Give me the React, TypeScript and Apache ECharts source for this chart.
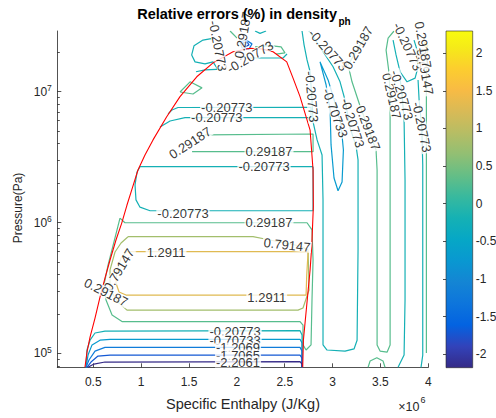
import React, { useEffect, useRef } from "react";
import * as echarts from "echarts";

// ---------- axes ----------
const H_RANGE = [0.124e6, 4.0e6];
const P_RANGE = [7.82e4, 2.91e7];
const C_RANGE = [-2.18, 2.296];

const xTickValues = [0.5e6, 1e6, 1.5e6, 2e6, 2.5e6, 3e6, 3.5e6, 4e6];
const yTickValues = [1e5, 1e6, 1e7];
const yMinorTickValues = [8e4, 9e4, 2e5, 3e5, 4e5, 5e5, 6e5, 7e5, 8e5, 9e5, 2e6, 3e6, 4e6, 5e6, 6e6, 7e6, 8e6, 9e6, 2e7];
const colorbarTicks = [-2, -1.5, -1, -0.5, 0, 0.5, 1, 1.5, 2];

// ---------- contour levels ----------
const L1 = -2.2061, L2 = -1.7065, L3 = -1.2069, L4 = -0.70733, L5 = -0.20773, L6 = 0.29187, L7 = 0.79147, L8 = 1.2911, L9 = 1.7907;

// ---------- saturation dome (h J/kg, p Pa) ----------
const saturationDome = [
  [0.413e6, 7.82e4], [0.434e6, 1.02e5], [0.466e6, 1.33e5], [0.518e6, 1.86e5], [0.570e6, 2.69e5],
  [0.622e6, 3.76e5], [0.675e6, 5.17e5], [0.737e6, 7.35e5], [0.797e6, 9.9e5], [0.852e6, 1.36e6],
  [0.901e6, 1.77e6], [0.967e6, 2.52e6], [1.040e6, 3.28e6], [1.124e6, 4.28e6], [1.267e6, 6.44e6],
  [1.406e6, 9.16e6], [1.581e6, 1.30e7], [1.751e6, 1.66e7], [1.960e6, 2.02e7], [2.138e6, 2.15e7],
  [2.263e6, 2.12e7], [2.378e6, 2.02e7], [2.521e6, 1.69e7], [2.587e6, 1.27e7], [2.660e6, 9.16e6],
  [2.765e6, 5.09e6], [2.796e6, 2.52e6], [2.799e6, 1.32e6], [2.782e6, 6.53e5], [2.765e6, 4.34e5],
  [2.695e6, 1.26e5], [2.688e6, 7.82e4],
];

// ---------- contour lines ----------
const cT1 = [[1.197e6, 5.37e6], [1.302e6, 5.97e6], [1.458e6, 6.33e6], [2.775e6, 6.33e6], [2.775e6, 7.60e6], [1.385e6, 7.57e6], [1.322e6, 7.24e6], [1.281e6, 6.76e6]];
const cG1 = [[1.667e6, 4.67e6], [2.796e6, 4.75e6], [2.796e6, 3.48e6], [1.532e6, 3.48e6]];
const cT2 = [[2.796e6, 2.67e6], [0.988e6, 2.67e6], [0.957e6, 2.43e6], [0.936e6, 1.94e6], [0.946e6, 1.49e6], [0.988e6, 1.31e6], [1.093e6, 1.23e6], [2.796e6, 1.23e6], [2.796e6, 2.67e6]];
const cG2 = [[0.779e6, 1.08e6], [0.831e6, 9.96e5], [2.733e6, 9.96e5], [2.785e6, 8.77e5], [2.796e6, 5.17e5], [2.785e6, 2.56e5], [2.775e6, 1.16e5], [2.723e6, 1.06e5], [2.691e6, 1.16e5], [2.691e6, 1.64e5], [2.660e6, 1.75e5], [0.800e6, 1.75e5], [0.696e6, 1.96e5], [0.633e6, 2.56e5], [0.612e6, 3.33e5], [0.654e6, 4.73e5], [0.716e6, 7.10e5], [0.779e6, 1.08e6]];
const cO1 = [[0.863e6, 7.79e5], [2.169e6, 7.79e5], [2.294e6, 7.48e5], [2.660e6, 6.61e5], [2.744e6, 6.16e5], [2.754e6, 3.05e5], [2.691e6, 2.22e5], [2.639e6, 2.14e5], [0.852e6, 2.14e5], [0.758e6, 2.47e5], [0.675e6, 3.05e5], [0.675e6, 4.34e5], [0.727e6, 5.95e5], [0.790e6, 6.97e5], [0.863e6, 7.79e5]];
const cY1 = [[2.744e6, 5.98e5], [0.849e6, 5.98e5], [0.790e6, 5.36e5], [0.748e6, 4.34e5], [0.737e6, 3.45e5], [0.769e6, 2.94e5], [0.842e6, 2.79e5], [2.723e6, 2.79e5], [2.730e6, 3.97e5], [2.744e6, 5.98e5]];
const cS1 = [[0.424e6, 7.82e4], [0.434e6, 1.06e5], [0.466e6, 1.26e5], [0.518e6, 1.43e5], [0.622e6, 1.48e5], [2.660e6, 1.49e5], [2.681e6, 1.38e5], [2.681e6, 7.82e4]];
const cS2 = [[0.424e6, 7.82e4], [0.445e6, 9.70e4], [0.487e6, 1.16e5], [0.570e6, 1.26e5], [0.675e6, 1.28e5], [2.660e6, 1.28e5], [2.681e6, 1.20e5], [2.681e6, 7.82e4]];
const cS3 = [[0.424e6, 7.82e4], [0.455e6, 8.89e4], [0.518e6, 1.04e5], [0.622e6, 1.11e5], [2.660e6, 1.11e5], [2.681e6, 1.04e5], [2.681e6, 7.82e4]];
const cS4 = [[0.434e6, 7.82e4], [0.476e6, 8.58e4], [0.549e6, 9.53e4], [0.675e6, 9.70e4], [2.660e6, 9.70e4], [2.681e6, 9.20e4], [2.681e6, 7.82e4]];
const cS5 = [[0.445e6, 7.82e4], [0.507e6, 8.28e4], [0.622e6, 8.58e4], [2.660e6, 8.63e4], [2.681e6, 8.28e4], [2.681e6, 7.82e4]];
const cU1 = [[1.761e6, 2.57e7], [1.646e6, 2.48e7], [1.552e6, 2.24e7], [1.528e6, 1.91e7], [1.563e6, 1.69e7], [1.667e6, 1.63e7], [1.751e6, 1.69e7], [1.803e6, 1.47e7]];
const cU2 = [[1.573e6, 1.42e7], [1.667e6, 1.47e7], [1.845e6, 1.49e7]];
const cU3 = [[1.406e6, 9.95e6], [1.511e6, 1.19e7], [1.636e6, 1.07e7], [1.542e6, 9.60e6], [1.406e6, 9.95e6]];
const cU4 = [[2.138e6, 1.81e7], [2.482e6, 1.81e7], [2.524e6, 1.94e7]];
const cU5 = [[2.190e6, 2.20e7], [2.347e6, 2.25e7], [2.462e6, 2.20e7], [2.503e6, 1.98e7], [2.409e6, 1.94e7]];
const cU6 = [[1.929e6, 2.91e7], [1.960e6, 2.76e7], [2.002e6, 2.57e7]];
const cU7 = [[2.190e6, 2.91e7], [2.242e6, 2.79e7], [2.305e6, 2.91e7]];
const cU8 = [[2.033e6, 2.40e7], [2.096e6, 2.48e7], [2.158e6, 2.32e7], [2.127e6, 2.12e7], [2.054e6, 2.16e7], [2.033e6, 2.40e7]];
const cU9 = [[2.064e6, 2.36e7], [2.106e6, 2.40e7], [2.127e6, 2.28e7], [2.085e6, 2.20e7], [2.064e6, 2.36e7]];
const cR1 = [[2.681e6, 2.91e7], [2.702e6, 2.28e7], [2.733e6, 1.75e7], [2.765e6, 1.42e7], [2.785e6, 8.64e6], [2.796e6, 5.87e6], [2.838e6, 4.28e6], [2.890e6, 3.28e6], [2.900e6, 1.49e6], [2.900e6, 1.16e5], [2.942e6, 1.06e5], [3.130e6, 1.04e5], [3.224e6, 1.08e5], [3.256e6, 1.26e5], [3.266e6, 6.16e5], [3.266e6, 3.01e6], [3.245e6, 3.85e6], [3.183e6, 5.28e6], [3.130e6, 8.64e6], [3.078e6, 1.19e7], [3.005e6, 1.55e7], [2.890e6, 2.08e7], [2.785e6, 2.71e7], [2.754e6, 2.91e7]];
const cR2 = [[2.869e6, 1.69e7], [2.932e6, 1.13e7], [2.974e6, 7.24e6], [2.984e6, 3.92e6], [3.015e6, 2.19e6], [3.057e6, 1.75e6], [3.099e6, 2.04e6], [3.113e6, 3.58e6], [3.089e6, 5.56e6], [3.026e6, 8.20e6], [2.953e6, 1.23e7], [2.869e6, 1.69e7]];
const cR3 = [[3.392e6, 2.91e7], [3.266e6, 2.16e7], [3.162e6, 1.60e7], [3.203e6, 1.19e7], [3.287e6, 7.78e6], [3.371e6, 5.28e6], [3.454e6, 3.58e6], [3.465e6, 2.52e6], [3.465e6, 1.16e5], [3.496e6, 1.04e5], [3.569e6, 1.02e5], [3.601e6, 1.16e5], [3.601e6, 6.16e5], [3.601e6, 6.08e6], [3.601e6, 9.27e6], [3.590e6, 1.39e7], [3.559e6, 2.08e7], [3.580e6, 2.57e7], [3.642e6, 2.91e7]];
const cR4 = [[3.684e6, 7.82e4], [3.747e6, 9.70e4], [3.757e6, 2.56e5], [3.757e6, 2.11e6], [3.747e6, 6.08e6], [3.726e6, 9.44e6], [3.705e6, 1.27e7]];
const cR5 = [[3.632e6, 2.48e7], [3.663e6, 1.91e7], [3.705e6, 1.42e7], [3.778e6, 1.19e7], [3.862e6, 1.27e7], [3.893e6, 1.55e7], [3.883e6, 2.08e7], [3.851e6, 2.48e7]];
const cR6 = [[3.924e6, 7.82e4], [3.942e6, 9.70e4], [3.942e6, 2.75e6], [3.932e6, 5.37e6], [3.904e6, 8.64e6], [3.893e6, 1.23e7]];
const cR7 = [[3.98e6, 1.005e5], [3.98e6, 1.49e6], [3.98e6, 2.21e7]];
const cR8 = [[3.977e6, 1.03e7], [3.987e6, 1.75e7], [3.992e6, 2.28e7]];
const cR9 = [[3.971e6, 2.40e7], [3.982e6, 1.88e7]];
const cR10 = [[3.371e6, 7.82e4], [3.392e6, 8.73e4], [3.462e6, 9.25e4], [3.527e6, 8.73e4], [3.548e6, 7.82e4]];

const contourLevels = [L5, L6, L5, L6, L7, L8, L5, L4, L3, L2, L1, L5, L5, L6, L5, L6, L6, L5, L3, L2, L5, L4, L6, L5, L5, L5, L6, L7, L9, L6];
const contourData = [cT1, cG1, cT2, cG2, cO1, cY1, cS1, cS2, cS3, cS4, cS5, cU1, cU2, cU3, cU4, cU5, cU6, cU7, cU8, cU9, cR1, cR2, cR3, cR4, cR5, cR6, cR7, cR8, cR9, cR10];

// ---------- inline contour labels ----------
const labelText = [
  "-0.20773", "-0.20773", "0.29187", "-0.20773", "-0.20773", "0.29187", "0.29187", "-0.20773", "-0.20773", "0.29187",
  "0.79147", "1.2911", "0.79147", "1.2911", "0.29187", "-0.20773", "-0.70733", "-1.2069", "-1.7065", "-2.2061",
  "-0.20773", "-0.20773", "-0.70733", "-0.20773", "0.29187", "0.29187", "0.29187", "-0.20773", "-0.20773", "0.79147",
  "-0.20773", "0.29187",
];
const labelH = [
  1.803e6, 2.138e6, 2.064e6, 1.894e6, 1.790e6, 1.511e6, 2.336e6, 2.284e6, 1.437e6, 2.336e6,
  2.524e6, 1.260e6, 0.769e6, 2.312e6, 0.633e6, 1.981e6, 1.981e6, 2.012e6, 2.012e6, 2.012e6,
  2.782e6, 2.953e6, 3.026e6, 3.209e6, 3.266e6, 3.371e6, 3.618e6, 3.723e6, 3.783e6, 3.966e6,
  3.932e6, 3.945e6,
];
const labelP = [
  2.24e7, 1.84e7, 2.71e7, 7.60e6, 6.30e6, 4.06e6, 3.48e6, 2.67e6, 1.18e6, 9.96e5,
  6.73e5, 5.95e5, 4.34e5, 2.69e5, 2.92e5, 1.48e5, 1.26e5, 1.10e5, 9.70e4, 8.58e4,
  9.16e6, 2.08e7, 6.88e6, 5.77e6, 2.16e7, 5.28e6, 9.27e6, 9.44e6, 2.21e7, 1.42e7,
  5.37e6, 2.28e7,
];
const labelAngle = [
  -79, 30, 80, 0, 0, 33, 0, 0, 0, 0,
  -6, 0, 59, 0, -27, 0, 0, 0, 0, 0,
  -85, -48, -70, -72, 60, -69, -77, -73, -65, -80,
  -78, -80,
];

// ---------- parula colormap ----------
const PARULA = [
  [0.2081, 0.1663, 0.5292], [0.1959, 0.2645, 0.7279], [0.0117, 0.3875, 0.8820], [0.0498, 0.4586, 0.8641],
  [0.0793, 0.5200, 0.8312], [0.0343, 0.5966, 0.8199], [0.0228, 0.6535, 0.7768], [0.0843, 0.6928, 0.7062],
  [0.2178, 0.7250, 0.6193], [0.3953, 0.7459, 0.5244], [0.5709, 0.7485, 0.4494], [0.7184, 0.7411, 0.3905],
  [0.8507, 0.7299, 0.3360], [0.9739, 0.7314, 0.2666], [0.9880, 0.8066, 0.1794], [0.9598, 0.9218, 0.0948],
  [0.9763, 0.9831, 0.0538],
];
const PARULA_POS = [0, 4, 8, 12, 16, 20, 24, 28, 32, 36, 40, 44, 48, 52, 56, 60, 63].map((i) => i / 63);

function rgb(c: number[]) {
  return `rgb(${Math.round(c[0] * 255)},${Math.round(c[1] * 255)},${Math.round(c[2] * 255)})`;
}
function parulaAt(t: number) {
  const x = Math.min(1, Math.max(0, t));
  for (let i = 0; i < PARULA_POS.length - 1; i++) {
    const a = PARULA_POS[i], b = PARULA_POS[i + 1];
    if (x <= b) {
      const f = (x - a) / (b - a);
      const c0 = PARULA[i], c1 = PARULA[i + 1];
      return rgb([0, 1, 2].map((k) => c0[k] + (c1[k] - c0[k]) * f));
    }
  }
  return rgb(PARULA[PARULA.length - 1]);
}
function levelColor(v: number) {
  return parulaAt((v - C_RANGE[0]) / (C_RANGE[1] - C_RANGE[0]));
}

const FONT = "'Liberation Sans', Arial, Helvetica, sans-serif";
const AXIS_COLOR = "#262626";

export default function App() {
  const ref = useRef<HTMLDivElement>(null);
  useEffect(() => {
    const chart = echarts.init(ref.current as HTMLDivElement, null, { renderer: "svg" });

    const gradient = new echarts.graphic.LinearGradient(
      0, 0, 0, 1,
      PARULA.map((c, i) => ({ offset: 1 - PARULA_POS[i], color: rgb(c) })).reverse()
    );

    const lineSeries: any[] = contourData.map((pts, i) => ({
      type: "line",
      xAxisIndex: 0,
      yAxisIndex: 0,
      data: pts,
      symbol: "none",
      silent: true,
      z: 2,
      lineStyle: { color: levelColor(contourLevels[i]), width: contourLevels[i] === L9 ? 3 : 1.2 },
    }));

    const option: any = {
      animation: false,
      backgroundColor: "#ffffff",
      textStyle: { fontFamily: FONT },
      grid: [
        { left: 57.3, top: 31, width: 371, height: 336.3, show: false, outerBoundsMode: "none", containLabel: false },
        {
          left: 446, top: 31, width: 26.7, height: 336.7, show: true, outerBoundsMode: "none", containLabel: false,
          backgroundColor: gradient, borderColor: AXIS_COLOR, borderWidth: 0.6,
        },
      ],
      xAxis: [
        {
          type: "value", gridIndex: 0, min: H_RANGE[0], max: H_RANGE[1],
          splitLine: { show: false },
          axisLine: { show: true, onZero: false, lineStyle: { color: AXIS_COLOR, width: 0.8 } },
          axisTick: { show: true, inside: true, length: 4, customValues: xTickValues, lineStyle: { color: AXIS_COLOR, width: 0.8 } },
          axisLabel: {
            show: true, customValues: xTickValues, margin: 9, fontSize: 12, color: AXIS_COLOR, fontFamily: FONT,
            formatter: (v: number) => String(+(v / 1e6).toFixed(1)),
          },
        },
        { type: "value", gridIndex: 1, min: 0, max: 1, show: false },
      ],
      yAxis: [
        {
          type: "log", gridIndex: 0, logBase: 10, min: P_RANGE[0], max: P_RANGE[1], position: "left",
          splitLine: { show: false },
          axisLine: { show: true, onZero: false, lineStyle: { color: AXIS_COLOR, width: 0.8 } },
          axisTick: { show: true, inside: true, length: 4, customValues: yTickValues, lineStyle: { color: AXIS_COLOR, width: 0.8 } },
          axisLabel: {
            show: true, customValues: yTickValues, margin: 5.5, color: AXIS_COLOR, fontFamily: FONT,
            formatter: (v: number) => `{b|10}{e|${Math.round(Math.log10(v))}}`,
            rich: {
              b: { fontSize: 12, color: AXIS_COLOR, fontFamily: FONT },
              e: { fontSize: 8.5, color: AXIS_COLOR, fontFamily: FONT, padding: [0, 0, 7, 0] },
            },
          },
        },
        {
          type: "log", gridIndex: 0, logBase: 10, min: P_RANGE[0], max: P_RANGE[1], position: "left",
          splitLine: { show: false },
          axisLine: { show: false },
          axisTick: { show: true, inside: true, length: 2.5, customValues: yMinorTickValues, lineStyle: { color: AXIS_COLOR, width: 0.8 } },
          axisLabel: { show: false },
        },
        {
          type: "value", gridIndex: 1, min: C_RANGE[0], max: C_RANGE[1], position: "right",
          splitLine: { show: false },
          axisLine: { show: false },
          axisTick: { show: true, inside: true, length: 3, customValues: colorbarTicks, lineStyle: { color: AXIS_COLOR, width: 0.8 } },
          axisLabel: { show: true, customValues: colorbarTicks, margin: 3, fontSize: 12, color: AXIS_COLOR, fontFamily: FONT },
        },
      ],
      series: [
        ...lineSeries,
        {
          type: "line", xAxisIndex: 0, yAxisIndex: 0, data: saturationDome, symbol: "none", silent: true, z: 3,
          lineStyle: { color: "#ff0000", width: 1.1 },
        },
        {
          type: "scatter", xAxisIndex: 0, yAxisIndex: 0, symbolSize: 0.1, silent: true, z: 5,
          itemStyle: { color: "rgba(0,0,0,0)" },
          label: {
            show: true, position: "inside", formatter: "{b}", fontSize: 13, color: "#000", fontFamily: FONT,
            backgroundColor: "#ffffff", padding: [0, 1], lineHeight: 11,
          },
          data: labelText.map((t, i) => ({ name: t, value: [labelH[i], labelP[i]], label: { rotate: labelAngle[i] } })),
        },
      ],
      graphic: [
        {
          type: "text", x: 337, y: 13.5, z: 10,
          style: { text: "Relative errors (%) in density", align: "right", verticalAlign: "middle", fontSize: 14.5, fontWeight: "bold", fontFamily: FONT, fill: "#000" },
        },
        {
          type: "text", x: 338.5, y: 21.5, z: 10,
          style: { text: "ph", align: "left", verticalAlign: "middle", fontSize: 10, fontWeight: "bold", fontFamily: FONT, fill: "#000" },
        },
        {
          type: "text", x: 243, y: 403.5, z: 10,
          style: { text: "Specific Enthalpy (J/Kg)", align: "center", verticalAlign: "middle", fontSize: 14.5, fontFamily: FONT, fill: AXIS_COLOR },
        },
        {
          type: "text", x: 17.5, y: 208, rotation: Math.PI / 2, z: 10,
          style: { text: "Pressure(Pa)", align: "center", verticalAlign: "middle", fontSize: 12, fontFamily: FONT, fill: AXIS_COLOR },
        },
        {
          type: "text", x: 419.5, y: 406.5, z: 10,
          style: { text: "\u00d710", align: "right", verticalAlign: "middle", fontSize: 12.5, fontFamily: FONT, fill: AXIS_COLOR },
        },
        {
          type: "text", x: 420.5, y: 399.5, z: 10,
          style: { text: "6", align: "left", verticalAlign: "middle", fontSize: 9, fontFamily: FONT, fill: AXIS_COLOR },
        },
      ],
    };

    chart.setOption(option);
    return () => chart.dispose();
  }, []);

  return (
    <div
      ref={ref}
      style={{ position: "fixed", left: 0, top: 0, width: 496, height: 418, background: "#fff" }}
    />
  );
}
